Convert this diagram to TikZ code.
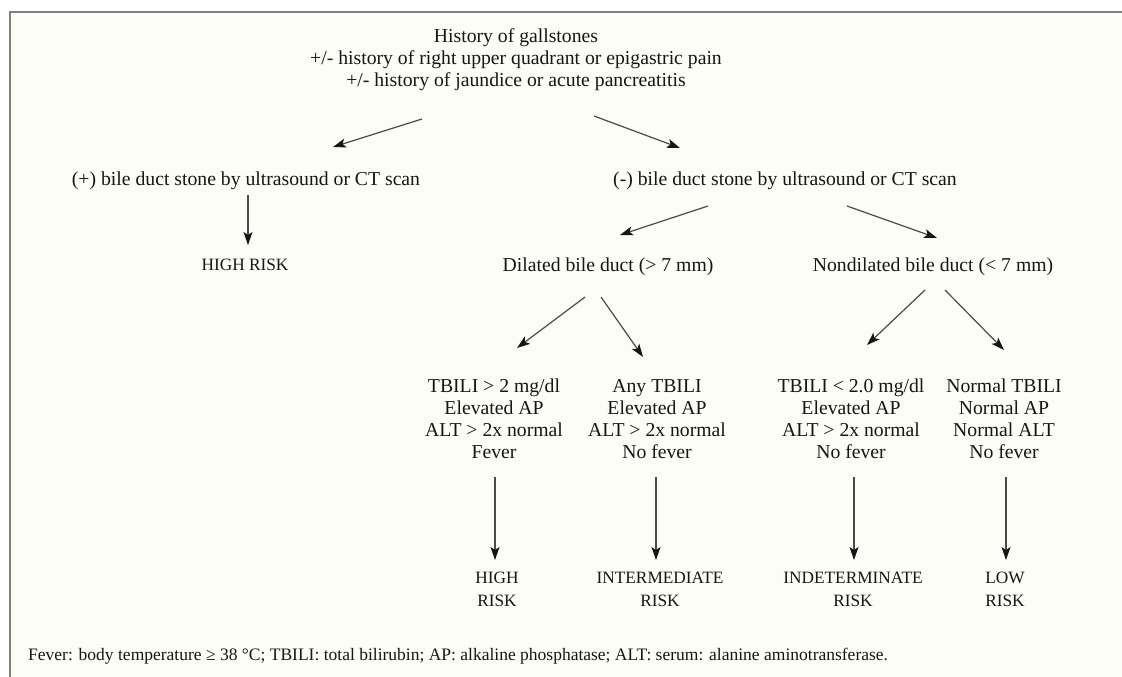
\documentclass[tikz,border=0pt]{standalone}
\usepackage{fontspec}
\setmainfont{Liberation Serif}
\usetikzlibrary{arrows.meta,positioning}
\definecolor{Ink}{HTML}{161616}
\definecolor{Paper}{HTML}{FDFDF7}
\definecolor{Frame}{HTML}{808080}
\definecolor{Wire}{HTML}{4A4A4A}
\tikzset{
  finding/.style={
    align=center, text=Ink, inner sep=0pt,
    font=\fontsize{19.7}{22}\selectfont
  },
  risk/.style={finding, font=\fontsize{17.3}{23}\selectfont},
  note/.style={
    anchor=west, text=Ink, inner sep=0pt,
    font=\fontsize{17.5}{19}\selectfont
  },
  flow/.style={-{Stealth[length=13pt,width=9pt,inset=3pt,color=Ink]}, line width=1.2pt, draw=Wire}
}

\begin{document}
\begin{tikzpicture}[x=1pt,y=-1pt]
        \useasboundingbox (0,0) rectangle (1122,677);
        \fill[white] (0,0) rectangle (1122,677);
        \fill[Paper] (10,12) rectangle (1122,677);
        \draw[Frame,line width=2pt] (10,677) -- (10,12) -- (1122,12);
        % findings
        \node[finding] (hist) at (516,60) {History of gallstones\\+/- history of right upper quadrant or epigastric pain\\+/- history of jaundice or acute pancreatitis};
        \node[finding] (pos) at (246,181) {(+) bile duct stone by ultrasound or CT scan};
        \node[finding] (neg) at (785,181) {(-) bile duct stone by ultrasound or CT scan};
        \node[risk] (high1) at (245,265) {HIGH RISK};
        \node[finding] (dil) at (608,267) {Dilated bile duct (> 7 mm)};
        \node[finding] (nondil) at (933,267) {Nondilated bile duct (< 7 mm)};
        \node[finding] (c1) at (494,419) {TBILI > 2 mg/dl\\Elevated AP\\ALT > 2x normal\\Fever};
        \node[finding] (c2) at (657,419) {Any TBILI\\Elevated AP\\ALT > 2x normal\\No fever};
        \node[finding] (c3) at (851,419) {TBILI < 2.0 mg/dl\\Elevated AP\\ALT > 2x normal\\No fever};
        \node[finding] (c4) at (1004,419) {Normal TBILI\\Normal AP\\Normal ALT\\No fever};
        % outcomes
        \node[risk] (r1) at (497,589) {HIGH\\RISK};
        \node[risk] (r2) at (660,589) {INTERMEDIATE\\RISK};
        \node[risk] (r3) at (853,589) {INDETERMINATE\\RISK};
        \node[risk] (r4) at (1005,589) {LOW\\RISK};
        \node[note] (foot) at (28,656) {Fever: body temperature ≥ 38 °C; TBILI: total bilirubin; AP: alkaline phosphatase; ALT: serum: alanine aminotransferase.};
        % arrow ends
        \coordinate (histL) at (422,119);  \coordinate (posT) at (333,147);
        \coordinate (histR) at (594,116);  \coordinate (negT) at (680,148);
        \coordinate (posB) at (248,195);   \coordinate (high1T) at (248,245);
        \coordinate (negL) at (708,206);   \coordinate (dilT) at (620,235);
        \coordinate (negR) at (847,206);   \coordinate (nondilT) at (937,238);
        \coordinate (dilL) at (585,297);   \coordinate (c1T) at (517,348);
        \coordinate (dilR) at (601,297);   \coordinate (c2T) at (643,357);
        \coordinate (nondilL) at (925,290); \coordinate (c3T) at (867,345);
        \coordinate (nondilR) at (945,290); \coordinate (c4T) at (1004,350);
        \coordinate (c1B) at (495,477);    \coordinate (r1T) at (495,560);
        \coordinate (c2B) at (656,477);    \coordinate (r2T) at (656,560);
        \coordinate (c3B) at (854,477);    \coordinate (r3T) at (854,560);
        \coordinate (c4B) at (1006,477);   \coordinate (r4T) at (1006,560);
        \draw[flow] (histL) -- (posT);
        \draw[flow] (histR) -- (negT);
        \draw[flow] (posB) -- (high1T);
        \draw[flow] (negL) -- (dilT);
        \draw[flow] (negR) -- (nondilT);
        \draw[flow] (dilL) -- (c1T);
        \draw[flow] (dilR) -- (c2T);
        \draw[flow] (nondilL) -- (c3T);
        \draw[flow] (nondilR) -- (c4T);
        \foreach \n in {1,...,4}
          \draw[flow] (c\n B) -- (r\n T);
      \end{tikzpicture}
\end{document}
